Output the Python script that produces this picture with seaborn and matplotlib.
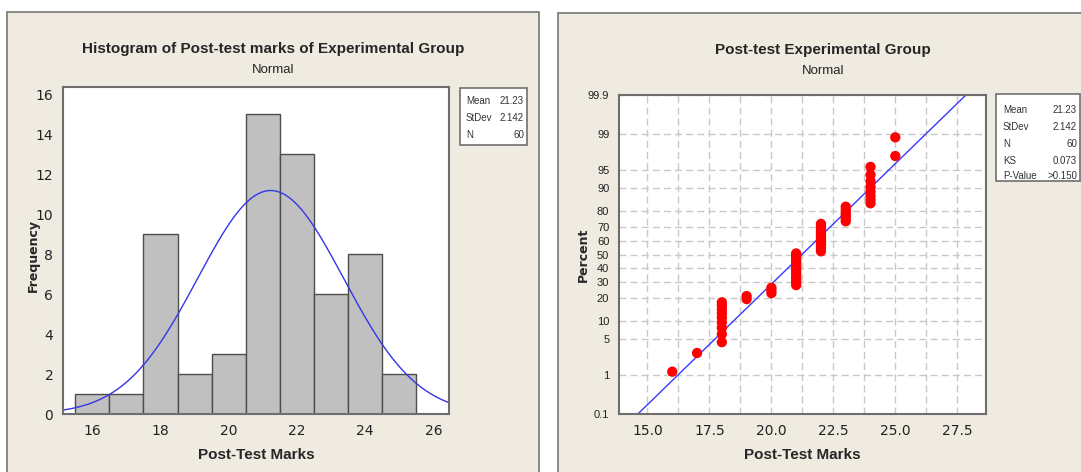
import numpy as np
import pandas as pd
import seaborn as sns
import matplotlib
matplotlib.use("Agg")
import matplotlib.pyplot as plt
from matplotlib.patches import Rectangle
from statistics import NormalDist

# data
marks = [16, 17, 18, 19, 20, 21, 22, 23, 24, 25]
counts = [1, 1, 9, 2, 3, 15, 13, 6, 8, 2]
mean, stdev, n = 21.23, 2.142, 60
ks_text, p_text = "0.073", ">0.150"

hist_xticks = [16, 18, 20, 22, 24, 26]
hist_yticks = [0, 2, 4, 6, 8, 10, 12, 14, 16]
prob_xticks = [15.0, 17.5, 20.0, 22.5, 25.0, 27.5]
pct_ticks = [0.1, 1, 5, 10, 20, 30, 40, 50, 60, 70, 80, 90, 95, 99, 99.9]
pct_labels = ["0.1", "1", "5", "10", "20", "30", "40", "50", "60", "70", "80", "90", "95", "99", "99.9"]

sns.set_theme(style="white")
plt.rcParams["font.family"] = ["DejaVu Sans"]
NARROW = ["Liberation Sans Narrow", "Liberation Sans", "DejaVu Sans"]

W, H = 1081, 472
BEIGE = "#efebe1"
SPINE = "#6e6e6e"

def fbox(x0, y0, x1, y1):
    # pixel box -> figure fraction [left, bottom, width, height]
    return [x0 / W, 1 - y1 / H, (x1 - x0) / W, (y1 - y0) / H]

def fx(px):
    return px / W

def fy(py):
    return 1 - py / H

fig = plt.figure(figsize=(W / 100, H / 100), dpi=100)
fig.patch.set_facecolor("white")

# the two beige panels (behind the axes)
for x0, y0, x1 in [(7.5, 11.7, 538.5), (557.5, 13, 1095)]:
    fig.patches.append(Rectangle((fx(x0), -0.05), fx(x1) - fx(x0), fy(y0) + 0.05,
                                 transform=fig.transFigure, facecolor=BEIGE,
                                 edgecolor="#808080", linewidth=1.3, zorder=-5))

def stats_box(x0, y0, x1, y1, rows, row_y, lab_x, val_x):
    fig.patches.append(Rectangle((fx(x0), fy(y1)), fx(x1) - fx(x0), fy(y0) - fy(y1),
                                 transform=fig.transFigure, facecolor="white",
                                 edgecolor="#707070", linewidth=1.2, zorder=1))
    for (lab, val), yy in zip(rows, row_y):
        fig.text(fx(lab_x), fy(yy), lab, ha="left", va="center", fontsize=7,
                 family=NARROW, color="#333333")
        fig.text(fx(val_x), fy(yy), val, ha="right", va="center", fontsize=7,
                 family=NARROW, color="#333333")

def style_axes(ax):
    for s in ax.spines.values():
        s.set_color(SPINE)
        s.set_linewidth(1.5)
    ax.tick_params(axis="both", which="major", direction="out", length=4, width=1,
                   color="#333333", labelcolor="#222222", pad=3)

# ---------- left: histogram ----------
scores = np.repeat(marks, counts)
ax1 = fig.add_axes(fbox(63, 87, 449, 414))
ax1.set_facecolor("white")
sns.histplot(x=scores, bins=np.arange(15.5, 26.5, 1), color="#c0c0c0",
             edgecolor="#4d4d4d", linewidth=1, alpha=1, ax=ax1)
dist = NormalDist(mean, stdev)
xs = np.linspace(15.14, 26.46, 400)
sns.lineplot(x=xs, y=[n * dist.pdf(v) for v in xs], color="#3535e8", linewidth=1, ax=ax1)
ax1.set_xlim(15.14, 26.46)
ax1.set_ylim(0, 16.35)
ax1.set_xticks(hist_xticks)
ax1.set_yticks(hist_yticks)
ax1.tick_params(labelsize=10)
ax1.set_xlabel("")
ax1.set_ylabel("")
style_axes(ax1)

fig.text(fx(273), fy(49), "Histogram of Post-test marks of Experimental Group",
         ha="center", va="center", fontsize=11, fontweight="bold", family=NARROW)
fig.text(fx(273), fy(70), "Normal", ha="center", va="center", fontsize=9.5, family=NARROW)
fig.text(fx(256), fy(455), "Post-Test Marks", ha="center", va="center",
         fontsize=11, fontweight="bold", family=NARROW)
fig.text(fx(33), fy(255), "Frequency", ha="center", va="center", rotation=90,
         fontsize=9, fontweight="bold")

stats_box(460, 88, 527, 145,
          [("Mean", f"{mean:.2f}"), ("StDev", f"{stdev:.3f}"), ("N", str(n))],
          [101, 118, 135], 466, 524)

# ---------- right: normal probability plot ----------
std = NormalDist()
sorted_scores = np.sort(scores)
ranks = np.arange(1, n + 1)
zpos = [std.inv_cdf((i - 0.3) / (n + 0.4)) for i in ranks]
prob_df = pd.DataFrame({"mark": sorted_scores, "z": zpos})

ax2 = fig.add_axes(fbox(619, 95, 986, 414))
ax2.set_facecolor("white")
zlo, zhi = std.inv_cdf(0.001), std.inv_cdf(0.999)

lx = np.linspace(13.85, 28.66, 200)
sns.lineplot(x=lx, y=(lx - mean) / stdev, color="#3838ff", linewidth=1, ax=ax2)
sns.scatterplot(data=prob_df, x="mark", y="z", color="#ff0000", s=55,
                edgecolor="none", ax=ax2, zorder=3)

ax2.set_xlim(13.85, 28.66)
ax2.set_ylim(zlo, zhi)
ax2.set_xticks(prob_xticks)
ax2.set_xticklabels([f"{v:.1f}" for v in prob_xticks])
ax2.set_xticks(np.arange(16.25, 28.0, 2.5), minor=True)
ax2.set_yticks([std.inv_cdf(p / 100) for p in pct_ticks])
ax2.set_yticklabels(pct_labels)
ax2.grid(True, which="both", axis="x", color="#c8c8c8", linestyle=(0, (5, 3)), linewidth=1)
ax2.grid(True, which="major", axis="y", color="#c8c8c8", linestyle=(0, (5, 3)), linewidth=1)
ax2.set_axisbelow(True)
ax2.set_xlabel("")
ax2.set_ylabel("")
style_axes(ax2)
ax2.tick_params(axis="x", which="minor", length=0)
for lab in ax2.get_xticklabels():
    lab.set_fontsize(10)
for lab in ax2.get_yticklabels():
    lab.set_fontsize(8)
    lab.set_family(NARROW)

fig.text(fx(823), fy(50), "Post-test Experimental Group", ha="center", va="center",
         fontsize=11, fontweight="bold", family=NARROW)
fig.text(fx(823), fy(71), "Normal", ha="center", va="center", fontsize=9.5, family=NARROW)
fig.text(fx(802), fy(455), "Post-Test Marks", ha="center", va="center",
         fontsize=11, fontweight="bold", family=NARROW)
fig.text(fx(583), fy(255), "Percent", ha="center", va="center", rotation=90,
         fontsize=9, fontweight="bold")

stats_box(996, 94, 1080, 181,
          [("Mean", f"{mean:.2f}"), ("StDev", f"{stdev:.3f}"), ("N", str(n)),
           ("KS", ks_text), ("P-Value", p_text)],
          [110, 127, 144, 161, 176], 1003, 1077)

fig.savefig("out.png", dpi=100, facecolor=fig.get_facecolor())
